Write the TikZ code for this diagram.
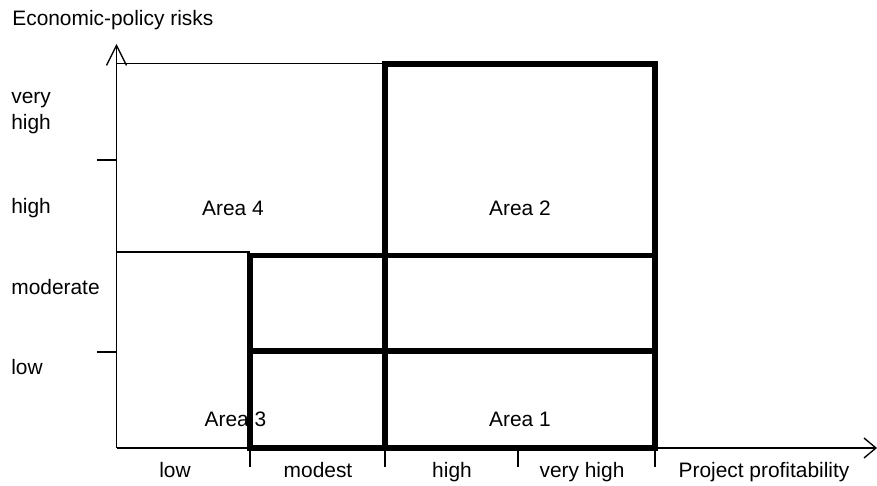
\documentclass[tikz,border=0pt]{standalone}
\usepackage{fontspec}
\setmainfont{Liberation Sans}
\usetikzlibrary{arrows.meta}

\begin{document}
\begin{tikzpicture}[
    x=0.02cm, y=-0.02cm,
    txt/.style={font=\fontsize{11.9pt}{14.8pt}\selectfont, inner sep=0pt},
    ylbl/.style={txt, anchor=west, align=left},
    xlbl/.style={txt, anchor=base},
    axis/.style={line width=0.75pt},
    bold/.style={line width=2.9pt, line join=miter},
    yarr/.style={axis, -{Straight Barb[length=0.4cm, width=0.4cm]}},
    xarr/.style={axis, -{Straight Barb[length=0.24cm, width=0.4cm]}}
  ]
    \useasboundingbox (0,0) rectangle (877,486);
    \coordinate (O) at (116.5,448);
    \coordinate (ytop) at (116.5,44);
    \coordinate (xend) at (877,448);

    \node[txt, anchor=west] (title) at (12,20) {Economic-policy risks};
    \node[ylbl] (vhigh) at (11,113) {very\\high};
    \node[ylbl] (yhigh) at (11,208) {high};
    \node[ylbl] (ymod) at (11,287) {moderate};
    \node[ylbl] (ylow) at (11,367) {low};

    \node[xlbl] (xlow) at (175,478) {low};
    \node[xlbl] (xmod) at (318,478) {modest};
    \node[xlbl] (xhigh) at (452,478) {high};
    \node[xlbl] (xvhigh) at (582,478) {very high};
    \node[xlbl] (xtitle) at (764,478) {Project profitability};

    \node[txt] (a4) at (233,208) {Area 4};
    \node[txt] (a2) at (520,208) {Area 2};
    \node[txt] (a3) at (235.5,419) {Area 3};
    \node[txt] (a1) at (520,419) {Area 1};

    % axes
    \draw[yarr] (O) -- (ytop);
    \draw[xarr] (O) -- (xend);
    \draw[axis] (ytop |- 0,63.5) -- (385,63.5);
    \draw[axis] (O |- 0,252) -- (250,252);
    \draw[axis] (97,160) -- (O |- 0,160);
    \draw[axis] (97,352) -- (O |- 0,352);
    \draw[axis] (250,448) -- (250,467);
    \draw[axis] (385,448) -- (385,467);
    \draw[axis] (518,448) -- (518,467);
    \draw[axis] (655,448) -- (655,467);

    % areas
    \draw[bold] (385,64) rectangle (655,448);
    \draw[bold] (250,255.5) rectangle (655,448);
    \draw[bold] (250,351) -- (655,351);
  \end{tikzpicture}
\end{document}
